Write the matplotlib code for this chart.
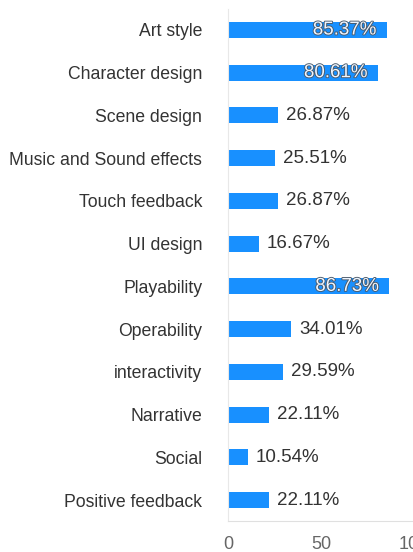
import numpy as np
import matplotlib
matplotlib.use('Agg')
import matplotlib.pyplot as plt
import matplotlib.patheffects as pe

categories = ['Art style', 'Character design', 'Scene design', 'Music and Sound effects',
              'Touch feedback', 'UI design', 'Playability', 'Operability',
              'interactivity', 'Narrative', 'Social', 'Positive feedback']
values = [85.37, 80.61, 26.87, 25.51, 26.87, 16.67, 86.73, 34.01, 29.59, 22.11, 10.54, 22.11]
xticks = [0, 50, 100]

plt.rcParams['font.family'] = ['Liberation Sans', 'DejaVu Sans']

fig = plt.figure(figsize=(4.14, 5.52), dpi=100)
# axes spans x=228..414 px, y=8.6..521.4 px
ax = fig.add_axes([0.5507, 0.0554, 0.4493, 0.929])

y = np.arange(len(categories))
ax.barh(y, values, height=0.375, color='#1890ff')
ax.set_ylim(len(categories) - 0.5, -0.5)
ax.set_xlim(0, 100)

for yi, v in zip(y, values):
    txt = '%.2f%%' % v
    if v > 80:
        ax.text(v - 5.5, yi, txt, ha='right', va='center', fontsize=13.5, color='#eef5ff',
                path_effects=[pe.withStroke(linewidth=1.3, foreground='#4a5a6a')])
    else:
        ax.text(v + 4.3, yi, txt, ha='left', va='center', fontsize=13.5, color='#333333')

ax.set_yticks(y)
ax.set_yticklabels(categories, fontsize=12.7, color='#333333')
ax.set_xticks(xticks)
ax.set_xticklabels([str(t) for t in xticks], fontsize=13, color='#666666')
ax.tick_params(axis='y', length=0, pad=18.5)
ax.tick_params(axis='x', length=0, pad=10.5)

for s in ['top', 'right']:
    ax.spines[s].set_visible(False)
ax.spines['left'].set_color('#e8e8e8')
ax.spines['bottom'].set_color('#e0e0e0')

fig.savefig('out.png', dpi=100)
